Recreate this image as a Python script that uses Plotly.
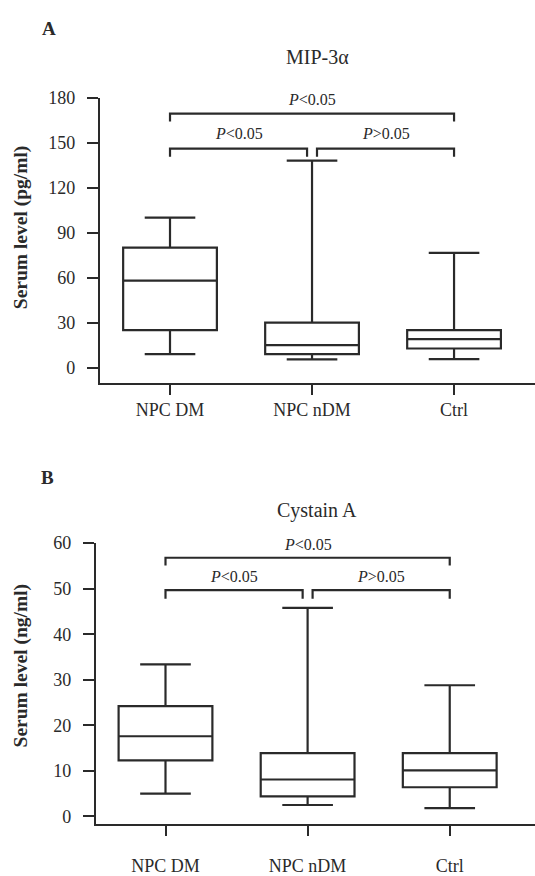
import plotly.graph_objects as go

W, H = 535, 876

# ---------------- data ----------------
groups = ["NPC DM", "NPC nDM", "Ctrl"]

# Panel A: MIP-3alpha (pg/ml)
a_lower = [9, 5.5, 5.7]
a_q1 = [25, 9, 12.8]
a_median = [58, 15, 19]
a_q3 = [80, 30, 25]
a_upper = [100, 138, 76.5]
a_ticks = [0, 30, 60, 90, 120, 150, 180]

# Panel B: Cystain A (ng/ml)
b_lower = [5.0, 2.5, 1.8]
b_q1 = [12.3, 4.4, 6.4]
b_median = [17.6, 8.1, 10.1]
b_q3 = [24.2, 13.9, 13.9]
b_upper = [33.4, 45.8, 28.8]
b_ticks = [0, 10, 20, 30, 40, 50, 60]

# significance brackets: (from group index, to group index, bracket level, drop level, label level, label)
a_brackets = [(0, 2, 169.3, 164.0, 178.4, "<i>P</i>&lt;0.05"),
              (0, 1, 146.0, 140.5, 155.8, "<i>P</i>&lt;0.05"),
              (1, 2, 146.0, 140.5, 155.8, "<i>P</i>&gt;0.05")]
b_brackets = [(0, 2, 56.8, 55.1, 59.8, "<i>P</i>&lt;0.05"),
              (0, 1, 49.7, 47.8, 52.7, "<i>P</i>&lt;0.05"),
              (1, 2, 49.7, 47.8, 52.7, "<i>P</i>&gt;0.05")]

# ---------------- style ----------------
FONT = "Liberation Serif, Times New Roman, serif"
INK = "#2a2a2a"
LW = 2.2

def px_x(p):
    return p / W

def px_y(p):
    return 1 - p / H

fig = go.Figure()

fig.add_trace(go.Box(
    x=groups, q1=a_q1, median=a_median, q3=a_q3,
    lowerfence=a_lower, upperfence=a_upper,
    xaxis="x", yaxis="y", width=0.66, whiskerwidth=0.54,
    fillcolor="white", line=dict(color=INK, width=LW),
    boxpoints=False, showlegend=False, hoverinfo="skip"))

fig.add_trace(go.Box(
    x=groups, q1=b_q1, median=b_median, q3=b_q3,
    lowerfence=b_lower, upperfence=b_upper,
    xaxis="x2", yaxis="y2", width=0.66, whiskerwidth=0.54,
    fillcolor="white", line=dict(color=INK, width=LW),
    boxpoints=False, showlegend=False, hoverinfo="skip"))

GAP = 0.035  # gap between adjacent brackets near the shared category
shapes = []
annotations = []
for brackets, xr, yr in [(a_brackets, "x", "y"), (b_brackets, "x2", "y2")]:
    for (i0, i1, lvl, drop, tlvl, label) in brackets:
        x0 = i0 + (GAP if i0 == 1 else 0)
        x1 = i1 - (GAP if i1 == 1 else 0)
        shapes.append(dict(type="path", xref=xr, yref=yr,
                           path=f"M {x0},{drop} L {x0},{lvl} L {x1},{lvl} L {x1},{drop}",
                           line=dict(color=INK, width=LW)))
        annotations.append(dict(x=(x0 + x1) / 2, y=tlvl, xref=xr, yref=yr,
                                text=label, showarrow=False,
                                font=dict(family=FONT, size=16, color=INK),
                                xanchor="center", yanchor="middle"))

# titles, panel letters, y titles
for txt, x, y, size, bold in [("A", 49, 19, 19, True), ("B", 48, 478, 19, True),
                              ("MIP-3α", 317, 48, 20, False),
                              ("Cystain A", 317, 512, 20, False)]:
    annotations.append(dict(x=px_x(x), y=px_y(y), xref="paper", yref="paper",
                            text=f"<b>{txt}</b>" if bold else txt, showarrow=False,
                            font=dict(family=FONT, size=size, color=INK),
                            xanchor="center", yanchor="middle"))

for txt, x, y in [("Serum level (pg/ml)", 21, 222), ("Serum level (ng/ml)", 21, 670)]:
    annotations.append(dict(x=px_x(x), y=px_y(y), xref="paper", yref="paper",
                            text=f"<b>{txt}</b>", showarrow=False, textangle=-90,
                            font=dict(family=FONT, size=19.5, color=INK),
                            xanchor="center", yanchor="middle"))

xcommon = dict(type="category", showline=True, linecolor=INK, linewidth=LW,
               ticks="outside", ticklen=10, tickwidth=LW, tickcolor=INK,
               showgrid=False, zeroline=False,
               tickfont=dict(family=FONT, size=18, color=INK))
ycommon = dict(showline=True, linecolor=INK, linewidth=LW,
               ticks="outside", ticklen=11, tickwidth=LW, tickcolor=INK,
               showgrid=False, zeroline=False, ticklabelstandoff=8,
               tickfont=dict(family=FONT, size=18, color=INK))

fig.update_layout(
    width=W, height=H, margin=dict(l=0, r=0, t=0, b=0),
    paper_bgcolor="white", plot_bgcolor="white",
    boxmode="overlay",
    xaxis=dict(xcommon, domain=[px_x(100), 1], range=[-0.493, 2.57], anchor="y",
               ticklabelstandoff=0),
    yaxis=dict(ycommon, domain=[px_y(381), px_y(89.5)], range=[-10, 180],
               tickvals=a_ticks, anchor="x"),
    xaxis2=dict(xcommon, domain=[px_x(96), 1], range=[-0.489, 2.60], anchor="y2",
                ticklabelstandoff=15),
    yaxis2=dict(ycommon, domain=[px_y(831.7), px_y(545)], range=[-1.6, 60],
                tickvals=b_ticks, anchor="x2"),
    shapes=shapes, annotations=annotations,
)

fig.write_html("out.html", config={"displayModeBar": False},
               post_script="document.body.style.margin='0';document.body.style.padding='0';")
